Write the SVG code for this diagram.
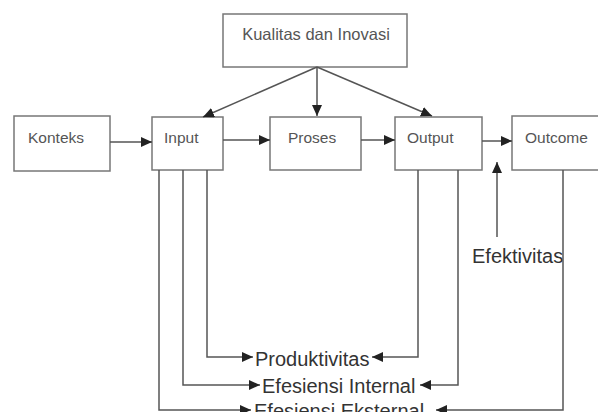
<svg xmlns="http://www.w3.org/2000/svg" width="598" height="412" viewBox="0 0 598 412">
<style>
.box{fill:#fff;stroke:#777;stroke-width:1.5}
.lbl{font-family:"Liberation Sans",Arial,sans-serif;font-size:15.5px;fill:#555}
.big{font-family:"Liberation Sans",Arial,sans-serif;font-size:20px;fill:#333}
.ln{fill:none;stroke:#666;stroke-width:1.5}
.ar{fill:none;stroke:#555;stroke-width:1.5;marker-end:url(#ah)}
</style>
<defs>
<marker id="ah" markerUnits="userSpaceOnUse" markerWidth="12" markerHeight="10" refX="11" refY="5" orient="auto">
<path d="M0,0 L11,5 L0,10 Z" fill="#222"/>
</marker>
</defs>
<rect width="598" height="412" fill="#fff"/>
<g id="kualitas"><rect class="box" x="223" y="14" width="184" height="53"/><text class="lbl" x="316" y="40" text-anchor="middle" style="font-size:16.5px">Kualitas dan Inovasi</text></g>
<g id="konteks"><rect class="box" x="14" y="116" width="96" height="55"/><text class="lbl" x="28" y="143">Konteks</text></g>
<g id="input"><rect class="box" x="152" y="117" width="71" height="53"/><text class="lbl" x="164" y="143">Input</text></g>
<g id="proses"><rect class="box" x="270" y="117" width="91" height="53"/><text class="lbl" x="288" y="143">Proses</text></g>
<g id="output"><rect class="box" x="395" y="117" width="87" height="53"/><text class="lbl" x="407" y="143">Output</text></g>
<g id="outcome"><rect class="box" x="512" y="116" width="100" height="54"/><text class="lbl" x="525" y="143">Outcome</text></g>
<g id="efektivitas"><text class="big" x="472" y="263">Efektivitas</text></g>
<g id="produktivitas"><text class="big" x="255" y="366">Produktivitas</text></g>
<g id="efesiensi-internal"><text class="big" x="262" y="393">Efesiensi Internal</text></g>
<g id="efesiensi-eksternal"><text class="big" x="254" y="418">Efesiensi Eksternal</text></g>
<g id="connectors">
<path class="ar" d="M317,67 L203,117"/>
<path class="ar" d="M317,67 L317,116"/>
<path class="ar" d="M317,67 L432,116"/>
<path class="ar" d="M110,142 L152,142"/>
<path class="ar" d="M223,140 L270,140"/>
<path class="ar" d="M361,140 L395,140"/>
<path class="ar" d="M482,141 L512,141"/>
<path class="ar" d="M497,237 L497,162"/>
<path class="ar" d="M207,170 L207,357 L253,357"/>
<path class="ar" d="M183,170 L183,385 L260,385"/>
<path class="ar" d="M159,170 L159,410 L251,410"/>
<path class="ar" d="M418,170 L418,357 L372,357"/>
<path class="ar" d="M458,170 L458,385 L420,385"/>
<path class="ar" d="M563,170 L563,410 L436,410"/>
</g>
</svg>
